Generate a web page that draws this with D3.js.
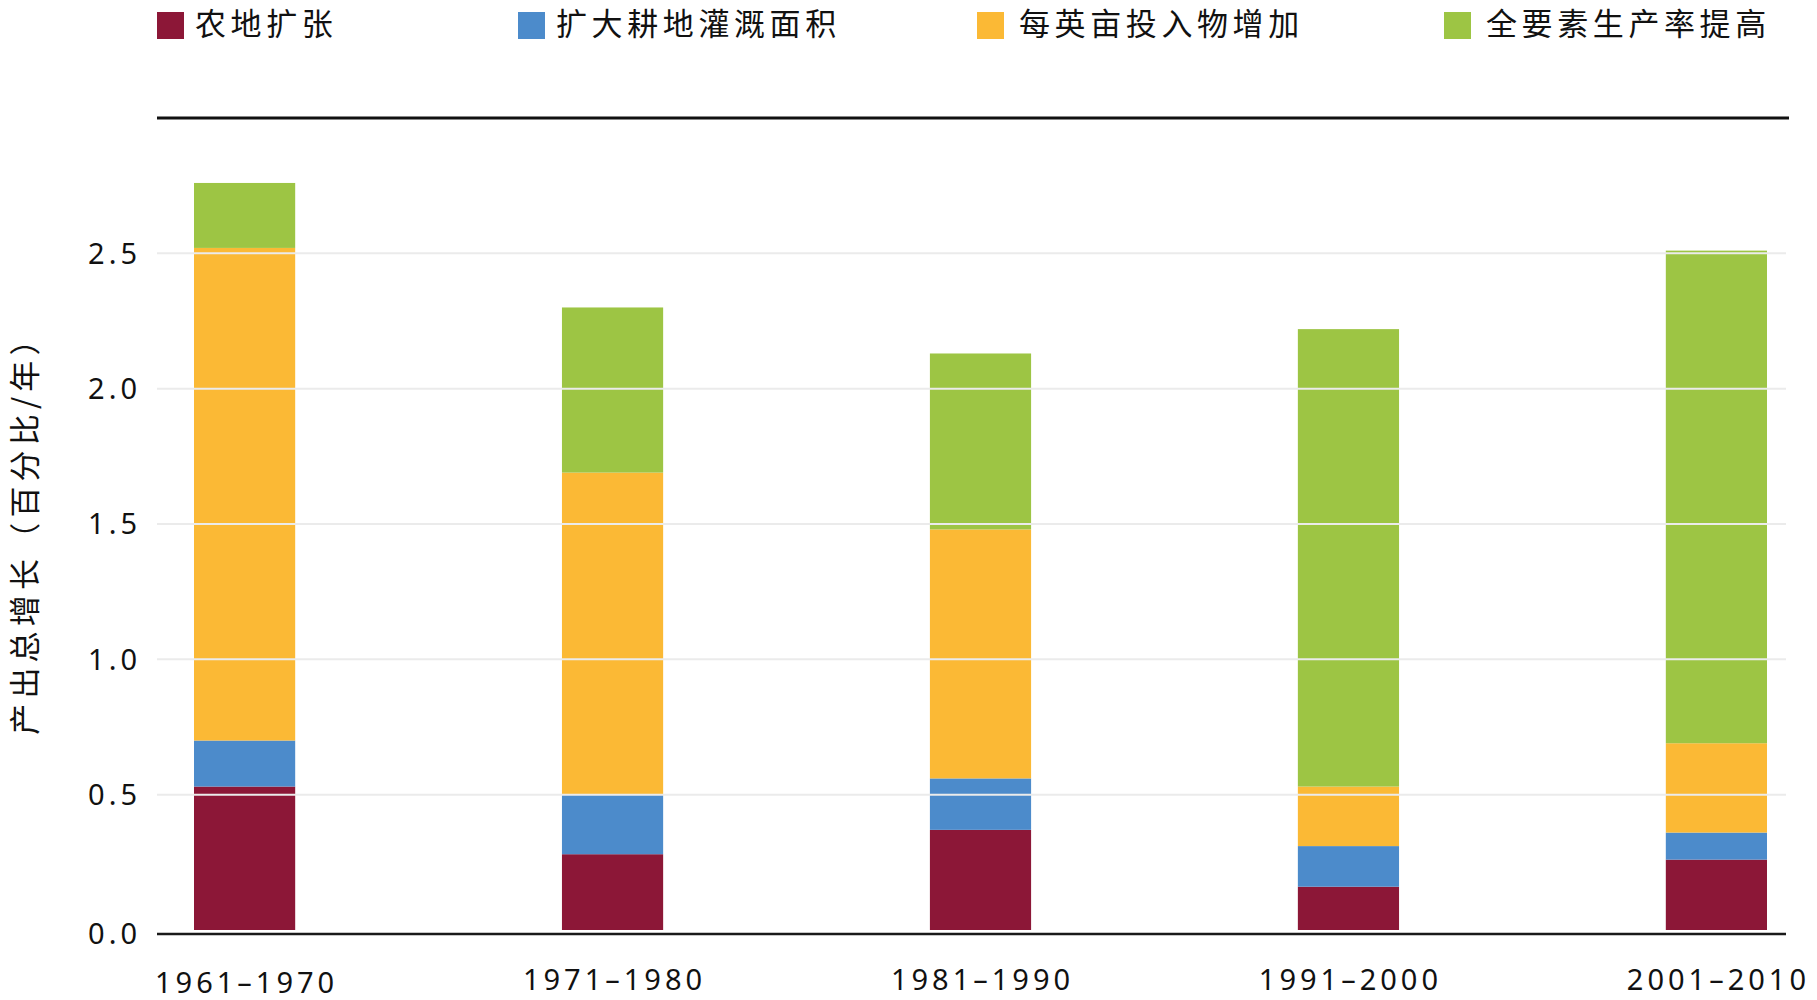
<!DOCTYPE html>
<html>
<head>
<meta charset="utf-8">
<script src="https://cdn.jsdelivr.net/npm/d3@7"></script>
<style>
  body { margin: 0; background: #fff; }
  svg { display: block; }
  .legend text { font-family: "Noto Sans CJK SC", sans-serif; font-size: 31px; fill: #111; letter-spacing: 4.6px; }
  .ytitle { font-family: "Noto Sans CJK SC", sans-serif; font-size: 31px; fill: #111; letter-spacing: 5.2px; }
  .tick-label { font-family: "Noto Sans", "DejaVu Sans", sans-serif; font-size: 29px; fill: #111; letter-spacing: 4px; }
</style>
</head>
<body>
<script>
// data (percent per year)
const periods = ['1961–1970', '1971–1980', '1981–1990', '1991–2000', '2001–2010'];
const landExpansion = [0.53, 0.28, 0.37, 0.16, 0.26];
const irrigation    = [0.17, 0.22, 0.19, 0.15, 0.10];
const inputs        = [1.82, 1.19, 0.92, 0.22, 0.33];
const tfp           = [0.24, 0.61, 0.65, 1.69, 1.82];

const seriesNames  = ['农地扩张', '扩大耕地灌溉面积', '每英亩投入物增加', '全要素生产率提高'];
const seriesColors = ['#8c1737', '#4c8bcb', '#fbb935', '#9dc544'];
const yTicks = [0, 0.5, 1, 1.5, 2, 2.5];

let svg, x, y;
const W = 1817, H = 1000;
const left = 157, right = 1786;

function build() {
  const keys = ['land', 'irr', 'inp', 'tfp'];
  const rows = periods.map((p, i) => ({
    period: p, land: landExpansion[i], irr: irrigation[i], inp: inputs[i], tfp: tfp[i]
  }));
  const stack = d3.stack().keys(keys)(rows);

  // bars
  svg.append('g')
    .selectAll('g')
    .data(stack)
    .enter()
    .append('g')
    .attr('fill', (d, i) => seriesColors[i])
    .selectAll('rect')
    .data(d => d)
    .enter()
    .append('rect')
    .attr('x', d => x(d.data.period))
    .attr('width', x.bandwidth())
    .attr('y', d => y(d[1]))
    .attr('height', d => y(d[0]) - y(d[1]));

  // gridlines sit on top of the bars
  svg.append('g')
    .selectAll('line')
    .data(yTicks.filter(t => t > 0))
    .enter()
    .append('line')
    .attr('x1', left)
    .attr('x2', right)
    .attr('y1', d => y(d))
    .attr('y2', d => y(d))
    .attr('stroke', '#ebebeb')
    .attr('stroke-width', 2);

  // baseline and top rule
  svg.append('line')
    .attr('x1', left).attr('x2', right)
    .attr('y1', y(0) + 4).attr('y2', y(0) + 4)
    .attr('stroke', '#1a1a1a').attr('stroke-width', 2.5);

  svg.append('line')
    .attr('x1', left).attr('x2', right + 3)
    .attr('y1', y(3)).attr('y2', y(3))
    .attr('stroke', '#111').attr('stroke-width', 3);

  // y tick labels
  svg.append('g')
    .selectAll('text')
    .data(yTicks)
    .enter()
    .append('text')
    .attr('class', 'tick-label')
    .attr('x', 141)
    .attr('y', d => y(d) + (d === 0 ? 4 : 0))
    .attr('dy', '0.36em')
    .attr('text-anchor', 'end')
    .text(d => d3.format('.1f')(d));

  // x labels
  svg.append('g')
    .selectAll('text')
    .data(periods)
    .enter()
    .append('text')
    .attr('class', 'tick-label')
    .attr('x', d => x(d) + x.bandwidth() / 2 + 2)
    .attr('y', (d, i) => i === 0 ? 993 : 990)
    .attr('text-anchor', 'middle')
    .text(d => d);

  // y title
  svg.append('text')
    .attr('class', 'ytitle')
    .attr('transform', 'translate(36,527) rotate(-90)')
    .attr('text-anchor', 'middle')
    .text('产出总增长（百分比/年）');

  // legend
  const legendX = [157, 518, 977, 1444];
  const textX = [38, 38, 42, 42];
  const lg = svg.append('g')
    .attr('class', 'legend')
    .selectAll('g')
    .data(seriesNames)
    .enter()
    .append('g')
    .attr('transform', (d, i) => `translate(${legendX[i]},12)`);

  lg.append('rect')
    .attr('width', 27)
    .attr('height', 27)
    .attr('fill', (d, i) => seriesColors[i]);

  lg.append('text')
    .attr('x', (d, i) => textX[i])
    .attr('y', 12)
    .attr('dy', '0.36em')
    .text(d => d);
}

function setup() {
  svg = d3.select('body').append('svg')
    .attr('width', W)
    .attr('height', H);

  x = d3.scaleBand()
    .domain(periods)
    .range([194, 1767])
    .paddingInner(0.725)
    .paddingOuter(0);

  y = d3.scaleLinear()
    .domain([0, 3])
    .range([930, 118]);

  build();
}

setup();
</script>
</body>
</html>
